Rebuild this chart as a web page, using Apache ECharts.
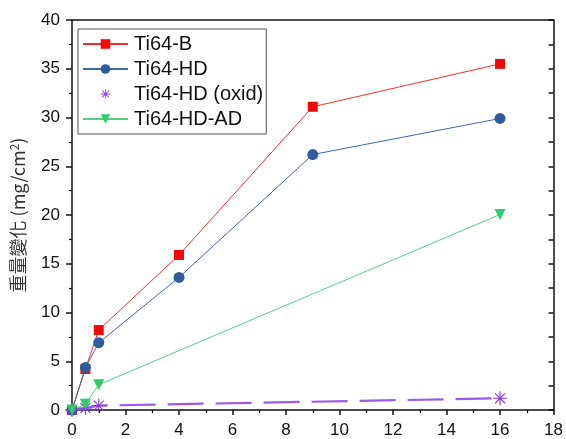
<!DOCTYPE html>
<html>
<head>
<meta charset="utf-8">
<script src="https://cdn.jsdelivr.net/npm/echarts@6/dist/echarts.min.js"></script>
<style>
  html, body { margin: 0; padding: 0; background: #fff; }
  #main { width: 566px; height: 439px; }
</style>
</head>
<body>
<div id="main"></div>
<script>
// hours vs mass gain
const tiB = [[0, 0], [0.5, 4.2], [1, 8.2], [4, 15.9], [9, 31.1], [16, 35.5]];
const tiHD = [[0, 0], [0.5, 4.35], [1, 6.9], [4, 13.6], [9, 26.2], [16, 29.9]];
const tiHDOxid = [[0, 0], [0.5, 0.2], [1, 0.45], [16, 1.2]];
const tiHDAD = [[0, 0], [0.5, 0.6], [1, 2.6], [16, 20.05]];
const seriesNames = ['Ti64-B', 'Ti64-HD', 'Ti64-HD (oxid)', 'Ti64-HD-AD'];

// filled asterisk made of 4 thin bars
const asterisk = 'path://M-0.8,-10L0.8,-10L0.8,10L-0.8,10Z' +
  'M-10,-0.8L10,-0.8L10,0.8L-10,0.8Z' +
  'M-6.5,-7.64L7.64,6.5L6.5,7.64L-7.64,-6.5Z' +
  'M7.64,-6.5L-6.5,7.64L-7.64,6.5L6.5,-7.64Z';

const axisFont = 'Liberation Sans, Arial, sans-serif';

const chart = echarts.init(document.getElementById('main'));
const option = {
  backgroundColor: '#fff',
  animation: false,
  grid: { left: 70, right: 9, top: 20, bottom: 24 },
  legend: {
    orient: 'vertical',
    left: 78,
    top: 29,
    padding: [5, 3, 5, 4],
    itemGap: 5,
    itemWidth: 45,
    itemHeight: 12,
    borderColor: '#555',
    borderWidth: 1,
    textStyle: { fontFamily: axisFont, fontSize: 20, color: '#111', padding: [0, 0, 0, 1] },
    data: [
      { name: seriesNames[0] },
      { name: seriesNames[1] },
      { name: seriesNames[2], lineStyle: { opacity: 0 } },
      { name: seriesNames[3] }
    ]
  },
  xAxis: [
    {
      type: 'value', min: 0, max: 18, interval: 2,
      axisLine: { onZero: false, lineStyle: { color: '#111', width: 1.5 } },
      axisTick: { length: 5, lineStyle: { color: '#111', width: 1.5 } },
      minorTick: { show: true, splitNumber: 2, length: 3, lineStyle: { color: '#111', width: 1.2 } },
      axisLabel: { margin: 12, fontFamily: axisFont, fontSize: 17, color: '#111' },
      splitLine: { show: false }
    },
    {
      type: 'value', position: 'top', min: 0, max: 18,
      axisLine: { show: true, onZero: false, lineStyle: { color: '#111', width: 1.5 } },
      axisTick: { show: false }, axisLabel: { show: false }, splitLine: { show: false }
    }
  ],
  yAxis: [
    {
      type: 'value', min: 0, max: 40, interval: 5,
      name: '重量變化 (mg/cm{sup|2})',
      nameLocation: 'middle',
      nameGap: 44,
      nameTextStyle: {
        fontFamily: 'Noto Sans CJK TC, Liberation Sans, sans-serif',
        fontSize: 18, color: '#333',
        rich: { sup: { fontSize: 12, verticalAlign: 'top', padding: [0, 0, 8, 0], color: '#333' } }
      },
      axisLine: { show: true, onZero: false, lineStyle: { color: '#111', width: 1.5 } },
      axisTick: { show: true, length: 6, lineStyle: { color: '#111', width: 1.5 } },
      minorTick: { show: true, splitNumber: 2, length: 3, lineStyle: { color: '#111', width: 1.2 } },
      axisLabel: { margin: 12, fontFamily: axisFont, fontSize: 17, color: '#111' },
      splitLine: { show: false }
    },
    {
      type: 'value', position: 'right', min: 0, max: 40, interval: 2.5,
      axisLine: { show: true, onZero: false, lineStyle: { color: '#111', width: 1.5 } },
      axisTick: { show: true, inside: true, length: 5, lineStyle: { color: '#111', width: 1.5 } },
      axisLabel: { show: false }, splitLine: { show: false }
    }
  ],
  series: [
    {
      name: seriesNames[0], type: 'line', data: tiB,
      symbol: 'rect', symbolSize: 10,
      itemStyle: { color: '#f00a0a' },
      lineStyle: { color: '#f03030', width: 1 }
    },
    {
      name: seriesNames[1], type: 'line', data: tiHD,
      symbol: 'circle', symbolSize: 11,
      itemStyle: { color: '#2f5d9b' },
      lineStyle: { color: '#3e68a8', width: 1 }
    },
    {
      name: seriesNames[2], type: 'line', data: tiHDOxid,
      symbol: asterisk, symbolSize: 14,
      itemStyle: { color: '#8a3cf0' },
      lineStyle: { color: '#9a5be6', width: 2.2, type: [36, 12] }
    },
    {
      name: seriesNames[3], type: 'line', data: tiHDAD,
      symbol: 'triangle', symbolRotate: 180, symbolSize: 11,
      itemStyle: { color: '#2ecc6a' },
      lineStyle: { color: '#55cf85', width: 1 }
    }
  ]
};
chart.setOption(option);
</script>
</body>
</html>
